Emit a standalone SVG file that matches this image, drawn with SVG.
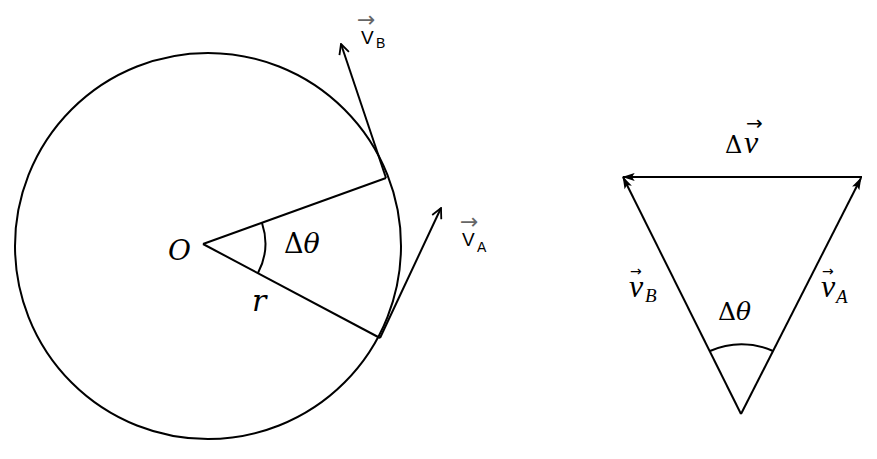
<svg xmlns="http://www.w3.org/2000/svg" width="877" height="459" viewBox="0 0 877 459">
<style>
.ln{fill:none;stroke:#000;stroke-width:2}
.m{font-family:"DejaVu Serif","Liberation Serif",serif;fill:#000}
.ls{font-family:"Liberation Serif","DejaVu Serif",serif;fill:#000}
.it{font-style:italic}
.sf{font-family:"Liberation Sans","DejaVu Sans",sans-serif;fill:#000}
.ar{font-family:"DejaVu Sans",sans-serif}
.g{fill:#666}
.k{fill:#000}
</style>
<defs>
<marker id="open" viewBox="0 0 12 12" refX="11" refY="6" markerWidth="12" markerHeight="12" markerUnits="userSpaceOnUse" orient="auto">
<path d="M1,1 L11,6 L1,11" fill="none" stroke="#000" stroke-width="1.8"/>
</marker>
<marker id="fill" viewBox="0 0 14 10" refX="13" refY="5" markerWidth="13" markerHeight="9" markerUnits="userSpaceOnUse" orient="auto">
<path d="M0,0.5 L14,5 L0,9.5 L3,5 Z" fill="#000"/>
</marker>
</defs>
<rect width="877" height="459" fill="#fff"/>
<g id="circle-node">
<circle class="ln" cx="208" cy="246" r="193"/>
</g>
<g id="connectors">
<line class="ln" x1="203" y1="244" x2="386" y2="178"/>
<line class="ln" x1="203" y1="244" x2="380" y2="338"/>
<path class="ln" d="M262,223 A64,64 0 0 1 258,273"/>
<line class="ln" x1="386" y1="178" x2="341" y2="44" marker-end="url(#open)"/>
<line class="ln" x1="380" y1="338" x2="441" y2="208" marker-end="url(#open)"/>
<line class="ln" x1="862" y1="177" x2="623" y2="177" marker-end="url(#fill)"/>
<line class="ln" x1="741" y1="414" x2="623" y2="177" marker-end="url(#fill)"/>
<line class="ln" x1="741" y1="414" x2="861" y2="178" marker-end="url(#fill)"/>
<path class="ln" d="M710,351 A76,76 0 0 1 773,351"/>
</g>
<g id="label-O"><text class="m it" x="168" y="260" font-size="28">O</text></g>
<g id="label-dtheta-left"><text class="m" x="284" y="253" font-size="27">Δ<tspan class="it">θ</tspan></text></g>
<g id="label-r"><text class="m it" x="252" y="311" font-size="30">r</text></g>
<g id="label-vB-left">
<text class="ar g" x="357" y="27" font-size="22">→</text>
<text class="sf" x="361" y="44" font-size="19">V</text>
<text class="sf" x="376" y="48" font-size="14">B</text>
</g>
<g id="label-vA-left">
<text class="ar g" x="460" y="229" font-size="22">→</text>
<text class="sf" x="462" y="246" font-size="19">V</text>
<text class="sf" x="477" y="252" font-size="14">A</text>
</g>
<g id="label-dv">
<text class="m" x="725" y="153" font-size="24">Δ</text>
<text class="ls it" x="744" y="153" font-size="32">v</text>
<text class="ar k" x="746" y="130" font-size="20">→</text>
</g>
<g id="label-vB-right">
<text class="ls it" x="629" y="297" font-size="32">v</text>
<text class="ls it" x="645" y="302" font-size="19">B</text>
<text class="ar k" x="630" y="276" font-size="14">→</text>
</g>
<g id="label-vA-right">
<text class="ls it" x="821" y="297" font-size="32">v</text>
<text class="ls it" x="836" y="303" font-size="19">A</text>
<text class="ar k" x="822" y="276" font-size="14">→</text>
</g>
<g id="label-dtheta-right"><text class="m" x="718" y="320" font-size="25">Δ<tspan class="it">θ</tspan></text></g>
</svg>
